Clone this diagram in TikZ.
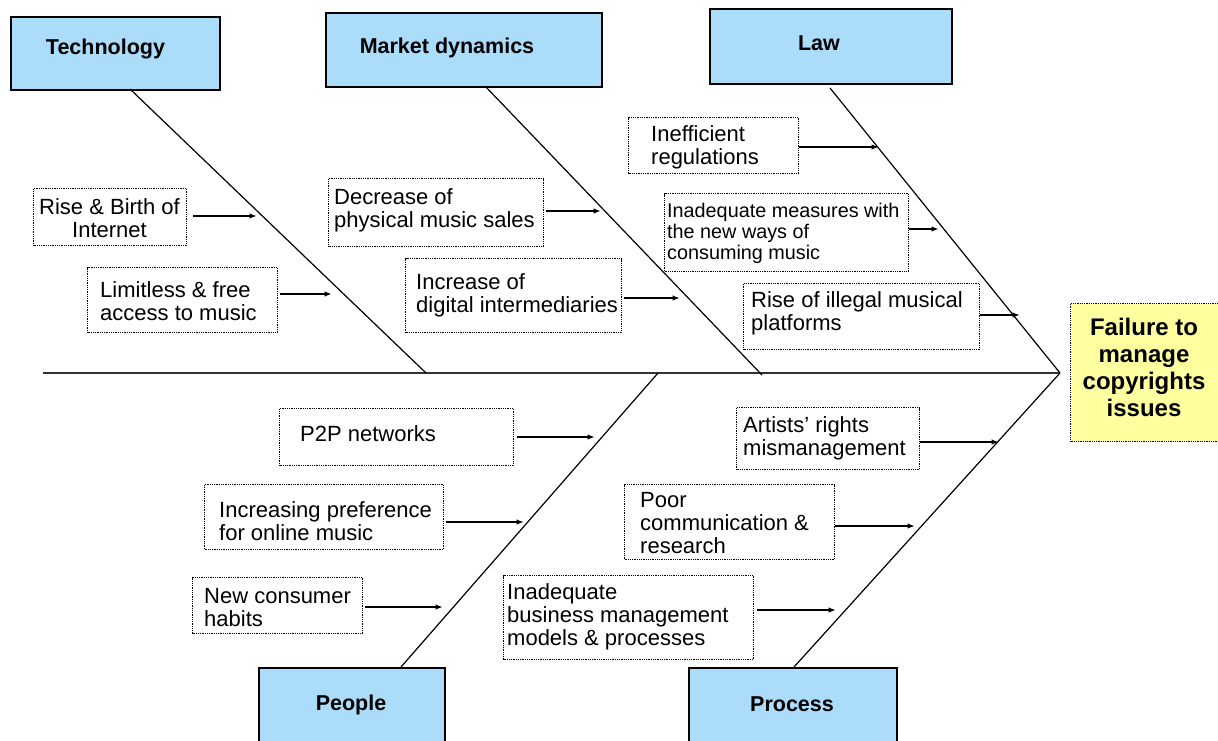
\documentclass[tikz,border=0pt]{standalone}
\usepackage{fontspec}
\setmainfont{Liberation Sans}
\usetikzlibrary{arrows.meta}
\definecolor{headblue}{RGB}{171,220,250}
\definecolor{effyellow}{RGB}{255,255,160}
\begin{document}
\begin{tikzpicture}[x=1pt,y=-1pt,
 head/.style={draw=black, line width=1.6pt, fill=headblue, inner sep=0, anchor=north west},
 headtext/.style={font=\fontsize{21.5}{24}\selectfont\bfseries, inner sep=0},
 cause/.style={draw=black, line width=1pt, dash pattern=on 0.9pt off 0.9pt, inner sep=0, anchor=north west},
 ctext/.style={font=\fontsize{22}{23}\selectfont, inner sep=0, anchor=west, align=left},
 stext/.style={font=\fontsize{19.8}{21}\selectfont, inner sep=0, anchor=west, align=left},
 bone/.style={line width=1.2pt},
 spinestyle/.style={line width=1.8pt, draw=black!80},
 arr/.style={line width=1.5pt, -{Latex[length=7.5pt,width=5.5pt]}}]
\useasboundingbox (0,0) rectangle (1218,740);
\clip (0,0) rectangle (1218,740);
\fill[white] (0,0) rectangle (1218,740);

% effect
\node[draw=black, line width=1pt, dash pattern=on 0.9pt off 0.9pt, fill=effyellow, inner sep=0, anchor=north west,
      minimum width=155pt, minimum height=138pt] (eff) at (1070,303) {};
\node[font=\fontsize{24}{27}\selectfont\bfseries, align=center, inner sep=0] (effT) at (1144,367)
  {Failure to\\manage\\copyrights\\issues};

% heads
\node[head, minimum width=209pt, minimum height=73pt] (tech) at (10,16) {};
\node[headtext] (techT) at (105.5,49) {Technology};
\node[head, minimum width=276pt, minimum height=74pt] (market) at (325,12) {};
\node[headtext] (marketT) at (447,48) {Market dynamics};
\node[head, minimum width=242pt, minimum height=75pt] (law) at (709,8) {};
\node[headtext] (lawT) at (819,43) {Law};
\node[head, minimum width=186pt, minimum height=90pt] (people) at (258,667) {};
\node[headtext] (peopleT) at (351,705) {People};
\node[head, minimum width=208pt, minimum height=90pt] (process) at (688,667) {};
\node[headtext] (processT) at (792,704) {Process};

% spine and bones
\coordinate (spL) at (43,373);
\coordinate (spR) at (1060,373);
\draw[spinestyle] (spL) -- (spR);
\coordinate (techTop) at (130,89);   \coordinate (techEnd) at (426,373);
\coordinate (mktTop) at (485,86);    \coordinate (mktEnd) at (762,375);
\coordinate (lawTop) at (830,88);
\coordinate (pplBot) at (401,667);   \coordinate (pplEnd) at (658,373);
\coordinate (procBot) at (794,667);
\draw[bone] (techTop) -- (techEnd);
\draw[bone] (mktTop) -- (mktEnd);
\draw[bone] (lawTop) -- (spR);
\draw[bone] (pplBot) -- (pplEnd);
\draw[bone] (procBot) -- (spR);

% causes
\node[cause, minimum width=153pt, minimum height=57pt] (rise) at (33,188) {};
\node[ctext, anchor=center, align=center] (riseT) at (109.5,218.5) {Rise \& Birth of\\Internet};
\node[cause, minimum width=190pt, minimum height=65pt] (limit) at (87,267) {};
\node[ctext] (limitT) at (100,301.5) {Limitless \& free\\access to music};
\node[cause, minimum width=215pt, minimum height=68pt] (decr) at (328,178) {};
\node[ctext] (decrT) at (334,210.5) {Decrease of\\physical music sales};
\node[cause, minimum width=216pt, minimum height=74pt] (incr) at (405,258) {};
\node[ctext] (incrT) at (416,295.5) {Increase of\\digital intermediaries};
\node[cause, minimum width=170pt, minimum height=56pt] (ineff) at (628,117) {};
\node[ctext] (ineffT) at (651,147.5) {Inefficient\\regulations};
\node[cause, minimum width=244pt, minimum height=78pt] (inadm) at (664,193) {};
\node[stext] (inadmT) at (667,233) {Inadequate measures with\\the new ways of\\consuming music};
\node[cause, minimum width=236pt, minimum height=66pt] (illeg) at (743,283) {};
\node[ctext] (illegT) at (751,313.5) {Rise of illegal musical\\platforms};
\node[cause, minimum width=234pt, minimum height=57pt] (p2p) at (279,408) {};
\node[ctext] (p2pT) at (300,434) {P2P networks};
\node[cause, minimum width=239pt, minimum height=65pt] (incpref) at (204,484) {};
\node[ctext] (incprefT) at (219,521.5) {Increasing preference\\for online music};
\node[cause, minimum width=170pt, minimum height=56pt] (newcons) at (192,577) {};
\node[ctext] (newconsT) at (204,607.5) {New consumer\\habits};
\node[cause, minimum width=183pt, minimum height=62pt] (artists) at (736,407) {};
\node[ctext] (artistsT) at (743,438.5) {Artists’ rights\\mismanagement};
\node[cause, minimum width=210pt, minimum height=75pt] (poor) at (624,484) {};
\node[ctext] (poorT) at (640,523.5) {Poor\\communication \&\\research};
\node[cause, minimum width=250pt, minimum height=84pt] (inadb) at (503,575) {};
\node[ctext] (inadbT) at (507,616.5) {Inadequate\\business management\\models \& processes};

% arrow tips on bones
\coordinate (riseA) at (257,216);
\coordinate (limitA) at (332,294);
\coordinate (decrA) at (601,211);
\coordinate (incrA) at (680,298);
\coordinate (ineffA) at (879,147);
\coordinate (inadmA) at (939,229);
\coordinate (illegA) at (1020,315);
\coordinate (p2pA) at (595,437);
\coordinate (incprefA) at (524,522);
\coordinate (newconsA) at (443,607);
\coordinate (artistsA) at (999,442);
\coordinate (poorA) at (915,526);
\coordinate (inadbA) at (836,610);

\draw[arr, shorten <=6pt] (rise.east |- riseA) -- (riseA);
\draw[arr, shorten <=2pt] (limit.east |- limitA) -- (limitA);
\draw[arr, shorten <=2pt] (decr.east |- decrA) -- (decrA);
\draw[arr, shorten <=2pt] (incr.east |- incrA) -- (incrA);
\draw[arr] (ineff.east |- ineffA) -- (ineffA);
\draw[arr] (inadm.east |- inadmA) -- (inadmA);
\draw[arr] (illeg.east |- illegA) -- (illegA);
\draw[arr, shorten <=3pt] (p2p.east |- p2pA) -- (p2pA);
\draw[arr, shorten <=2pt] (incpref.east |- incprefA) -- (incprefA);
\draw[arr, shorten <=2pt] (newcons.east |- newconsA) -- (newconsA);
\draw[arr] (artists.east |- artistsA) -- (artistsA);
\draw[arr] (poor.east |- poorA) -- (poorA);
\draw[arr, shorten <=3pt] (inadb.east |- inadbA) -- (inadbA);
\end{tikzpicture}
\end{document}
